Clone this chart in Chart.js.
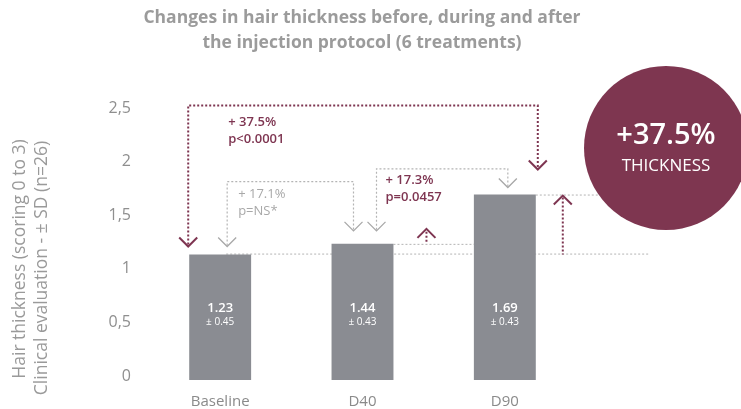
<!DOCTYPE html>
<html>
<head>
<meta charset="utf-8">
<script src="https://cdn.jsdelivr.net/npm/chart.js@4.4.1/dist/chart.umd.min.js"></script>
<style>
  html, body { margin: 0; padding: 0; background: #fff; }
  #wrap { width: 741px; height: 409px; position: relative; }
</style>
</head>
<body>
<div id="wrap"><canvas id="hairChart"></canvas></div>
<script>
// valores
const categories = ['Baseline', 'D40', 'D90'];
const barValues = [1.17, 1.27, 1.73];
const meanLabels = ['1.23', '1.44', '1.69'];
const sdLabels = ['± 0.45', '± 0.43', '± 0.43'];
const yTicks = [0, 0.5, 1, 1.5, 2, 2.5];
const titleLines = ['Changes in hair thickness before, during and after', 'the injection protocol (6 treatments)'];
const yTitleLines = ['Hair thickness (scoring 0 to 3)', 'Clinical evaluation - ± SD (n=26)'];
const changeTotal = ['+ 37.5%', 'p<0.0001'];
const changeD40 = ['+ 17.1%', 'p=NS*'];
const changeD90 = ['+ 17.3%', 'p=0.0457'];
const headline = ['+37.5%', 'THICKNESS'];

const FONT = '"Open Sans", "Noto Sans", sans-serif';
const WINE = '#7e3551';
const GREY_LINE = '#b4b4b4';
const BAR = '#8a8c92';

function dotted(ctx, pts, color, width) {
    ctx.save();
    ctx.strokeStyle = color;
    ctx.lineWidth = width;
    ctx.setLineDash([2, 2]);
    ctx.beginPath();
    ctx.moveTo(pts[0][0], pts[0][1]);
    for (let i = 1; i < pts.length; i++) ctx.lineTo(pts[i][0], pts[i][1]);
    ctx.stroke();
    ctx.restore();
}

// chevron, dir = 1 para baixo, -1 para cima
function chevron(ctx, x, y, dir, color, width) {
    ctx.save();
    ctx.strokeStyle = color;
    ctx.lineWidth = width;
    ctx.beginPath();
    ctx.moveTo(x - 9, y - 9 * dir);
    ctx.lineTo(x, y);
    ctx.lineTo(x + 9, y - 9 * dir);
    ctx.stroke();
    ctx.restore();
}

function twoLines(ctx, lines, x, y, color, size, weight) {
    ctx.save();
    ctx.fillStyle = color;
    ctx.font = weight + ' ' + size + 'px ' + FONT;
    ctx.textAlign = 'left';
    ctx.textBaseline = 'middle';
    ctx.fillText(lines[0], x, y);
    ctx.fillText(lines[1], x, y + 17);
    ctx.restore();
}

function barBox(bar) {
    return { x: bar.x, left: bar.x - bar.width / 2, right: bar.x + bar.width / 2, top: bar.y, base: bar.base };
}

const decor = {
    id: 'decor',
    beforeDatasetsDraw(chart) {
        const ctx = chart.ctx;
        const b = chart.getDatasetMeta(0).data.map(barBox);
        const area = chart.chartArea;
        // linhas de nivel (atras das barras)
        dotted(ctx, [[b[0].x + 6, b[0].top - 0.5], [area.right + 74, b[0].top - 0.5]], GREY_LINE, 1);
        dotted(ctx, [[b[1].right, b[1].top + 0.5], [b[2].left, b[1].top + 0.5]], GREY_LINE, 1);
        dotted(ctx, [[b[2].right, b[2].top + 0.5], [area.right + 40, b[2].top + 0.5]], GREY_LINE, 1);
    },
    afterDatasetsDraw(chart) {
        const ctx = chart.ctx;
        const y = chart.scales.y;
        const b = chart.getDatasetMeta(0).data.map(barBox);
        const area = chart.chartArea;

        // titulo
        ctx.save();
        ctx.fillStyle = '#9b9b9b';
        ctx.font = '700 17.5px ' + FONT;
        ctx.textAlign = 'center';
        ctx.textBaseline = 'middle';
        ctx.fillText(titleLines[0], 362, 18);
        ctx.fillText(titleLines[1], 362, 43);
        ctx.restore();

        // titulo do eixo y (duas linhas giradas)
        ctx.save();
        ctx.fillStyle = '#9a9a9a';
        ctx.font = '17.5px ' + FONT;
        ctx.textAlign = 'center';
        ctx.textBaseline = 'middle';
        ctx.translate(20, 259);
        ctx.rotate(-Math.PI / 2);
        ctx.fillText(yTitleLines[0], 0, 0);
        ctx.fillText(yTitleLines[1], -9, 22);
        ctx.restore();

        // valores dentro das barras
        ctx.save();
        ctx.fillStyle = '#ffffff';
        ctx.textAlign = 'center';
        ctx.textBaseline = 'middle';
        b.forEach((bar, i) => {
            ctx.font = '600 13px ' + FONT;
            ctx.fillText(meanLabels[i], bar.x, bar.base - 72);
            ctx.font = '10px ' + FONT;
            ctx.fillText(sdLabels[i], bar.x, bar.base - 58);
        });
        ctx.restore();

        // colchete total (Baseline -> D90)
        const topTotal = y.getPixelForValue(2.56);
        dotted(ctx, [[b[0].left - 1, b[0].top - 10], [b[0].left - 1, topTotal], [b[2].right + 2, topTotal], [b[2].right + 2, b[2].top - 27]], WINE, 2);
        chevron(ctx, b[0].left - 1, b[0].top - 8, 1, WINE, 2);
        chevron(ctx, b[2].right + 2, b[2].top - 25, 1, WINE, 2);
        twoLines(ctx, changeTotal, b[0].left + 39, topTotal + 17, WINE, 13, 600);

        // colchete Baseline -> D40
        const topA = y.getPixelForValue(1.85);
        dotted(ctx, [[b[0].x + 7, b[0].top - 9], [b[0].x + 7, topA], [b[1].x - 9, topA], [b[1].x - 9, b[1].top - 14]], GREY_LINE, 1.2);
        chevron(ctx, b[0].x + 7, b[0].top - 8, 1, '#a8a8a8', 1.3);
        chevron(ctx, b[1].x - 9, b[1].top - 13, 1, '#a8a8a8', 1.3);
        twoLines(ctx, changeD40, b[0].x + 18, topA + 13, '#a8a8a8', 13, 400);

        // colchete D40 -> D90
        const topB = y.getPixelForValue(1.97);
        dotted(ctx, [[b[1].x + 14, b[1].top - 14], [b[1].x + 14, topB], [b[2].x + 3, topB], [b[2].x + 3, b[2].top - 8]], GREY_LINE, 1.2);
        chevron(ctx, b[1].x + 14, b[1].top - 13, 1, '#a8a8a8', 1.3);
        chevron(ctx, b[2].x + 3, b[2].top - 7, 1, '#a8a8a8', 1.3);
        twoLines(ctx, changeD90, b[1].x + 23, topB + 11, WINE, 13, 600);

        // setas de aumento
        const ax1 = b[1].right + 33;
        dotted(ctx, [[ax1, b[1].top - 12], [ax1, b[1].top]], WINE, 2);
        chevron(ctx, ax1, b[1].top - 15, -1, WINE, 2);
        const ax2 = b[2].right + 27;
        dotted(ctx, [[ax2, b[2].top + 3], [ax2, b[0].top]], WINE, 2);
        chevron(ctx, ax2, b[2].top + 1, -1, WINE, 2);

        // circulo
        const cx = area.right + 90;
        const cy = area.top + 36;
        ctx.save();
        ctx.fillStyle = '#7e3650';
        ctx.beginPath();
        ctx.arc(cx, cy, 82, 0, Math.PI * 2);
        ctx.fill();
        ctx.fillStyle = '#ffffff';
        ctx.textAlign = 'center';
        ctx.textBaseline = 'middle';
        ctx.font = '600 29px ' + FONT;
        ctx.fillText(headline[0], cx, cy - 12);
        ctx.font = '17px ' + FONT;
        ctx.fillText(headline[1], cx, cy + 18);
        ctx.restore();
    }
};

const ctx = document.getElementById('hairChart').getContext('2d');
new Chart(ctx, {
    type: 'bar',
    data: {
        labels: categories,
        datasets: [{
            data: barValues,
            backgroundColor: BAR,
            borderWidth: 0,
            barPercentage: 0.435,
            categoryPercentage: 1
        }]
    },
    options: {
        responsive: true,
        maintainAspectRatio: false,
        animation: false,
        layout: { padding: { top: 112, right: 165, left: 0, bottom: 0 } },
        plugins: {
            legend: { display: false },
            tooltip: { enabled: false },
            title: { display: false }
        },
        scales: {
            x: {
                grid: { display: false, drawTicks: false },
                border: { display: false },
                ticks: { color: '#8a8a8a', font: { family: FONT, size: 15 }, padding: 13 },
                afterFit(scale) { scale.height = 29; }
            },
            y: {
                min: 0,
                max: 2.5,
                afterBuildTicks(scale) { scale.ticks = yTicks.map(v => ({ value: v })); },
                grid: { display: false, drawTicks: false },
                border: { display: false },
                ticks: {
                    color: '#8f8f8f',
                    font: { family: FONT, size: 16 },
                    padding: 18,
                    labelOffset: -4,
                    callback: v => String(v).replace('.', ',')
                },
                afterFit(scale) { scale.width = 149; }
            }
        }
    },
    plugins: [decor]
});
</script>
</body>
</html>
